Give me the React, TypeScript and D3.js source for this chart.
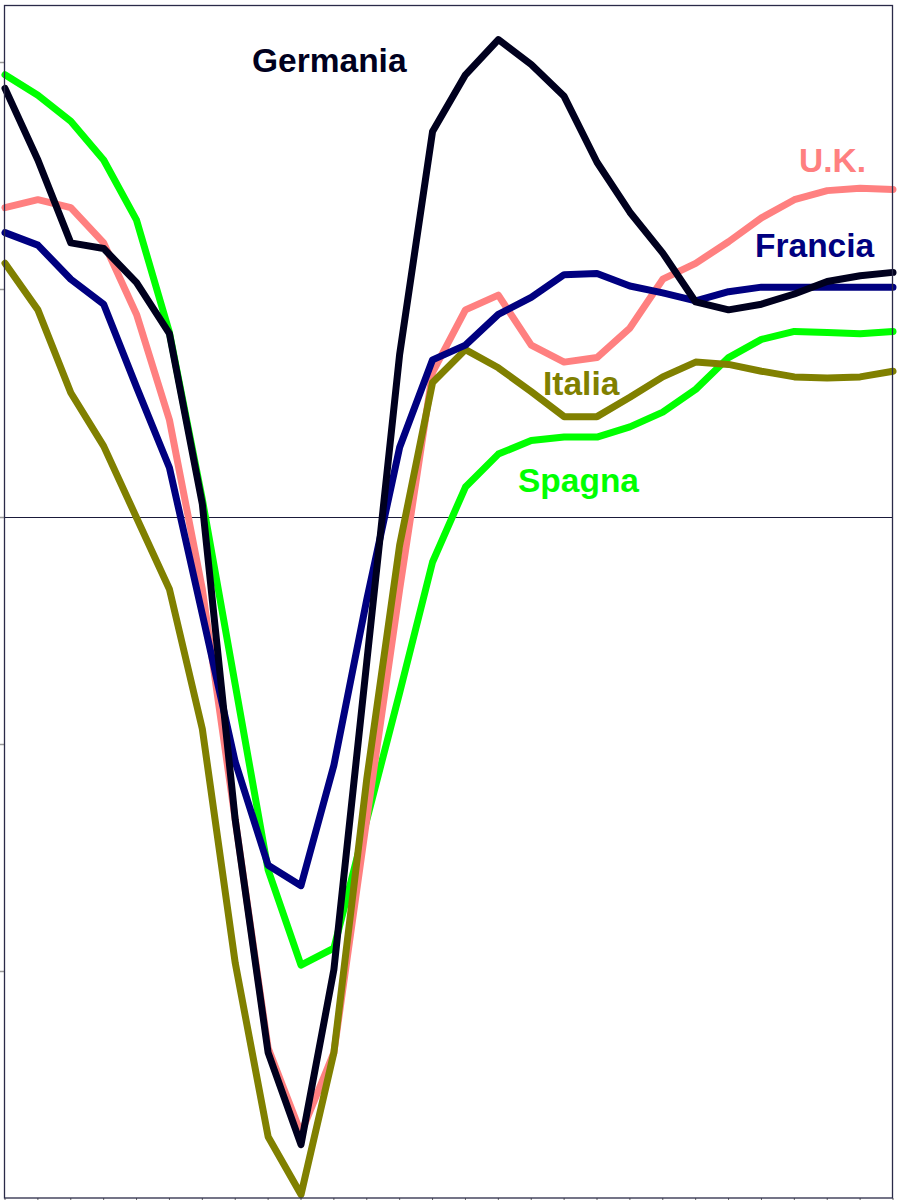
import * as d3 from 'd3';
import * as React from 'react';
import { Component } from 'react';

// year-on-year growth, one value per quarter
const germania = [3.77, 3.14, 2.41, 2.36, 2.06, 1.61, 0.11, -2.67, -4.72, -5.53, -3.99, -1.28, 1.43, 3.39,
  3.89, 4.20, 3.98, 3.70, 3.12, 2.68, 2.32, 1.89, 1.82, 1.87, 1.96, 2.07, 2.12, 2.15];
const spagna = [3.89, 3.71, 3.48, 3.14, 2.61, 1.62, 0.15, -1.48, -3.11, -3.95, -3.80, -2.67, -1.55, -0.40,
  0.26, 0.55, 0.67, 0.70, 0.70, 0.79, 0.92, 1.12, 1.40, 1.56, 1.63, 1.62, 1.61, 1.63];
const uk = [2.72, 2.79, 2.72, 2.41, 1.78, 0.85, -0.64, -2.67, -4.68, -5.43, -4.72, -2.66, -0.64, 1.27,
  1.82, 1.95, 1.51, 1.36, 1.40, 1.66, 2.09, 2.23, 2.42, 2.63, 2.79, 2.87, 2.89, 2.88];
const francia = [2.50, 2.39, 2.09, 1.87, 1.14, 0.43, -0.86, -2.16, -3.07, -3.25, -2.19, -0.73, 0.61, 1.38,
  1.51, 1.78, 1.93, 2.13, 2.14, 2.03, 1.97, 1.90, 1.98, 2.02, 2.02, 2.02, 2.02, 2.02];
const italia = [2.23, 1.82, 1.09, 0.62, -0.01, -0.64, -1.87, -3.93, -5.46, -5.97, -4.72, -2.31, -0.25, 1.18,
  1.47, 1.31, 1.10, 0.88, 0.88, 1.05, 1.23, 1.36, 1.34, 1.28, 1.23, 1.22, 1.23, 1.28];

const yTicks = [4, 2, 0, -2, -4];

const series = [
  { name: 'Spagna', values: spagna, color: '#00ff00', lx: 518, ly: 492 },
  { name: 'U.K.', values: uk, color: '#ff8080', lx: 799, ly: 172 },
  { name: 'Italia', values: italia, color: '#808000', lx: 543, ly: 395 },
  { name: 'Francia', values: francia, color: '#000080', lx: 755, ly: 257 },
  { name: 'Germania', values: germania, color: '#00001e', lx: 252, ly: 72 },
];

class App extends Component {

  private chartElement: any;

  componentDidMount() {
    document.body.style.margin = '0';
    this.renderChart();
  }

  renderChart() {
    const width = 898,
      height = 1200;

    const plot = { left: 4.5, right: 892.5, top: 5.5, bottom: 1198 };

    d3.select(this.chartElement).selectAll('*').remove();

    let svg = d3.select(this.chartElement)
      .append('svg')
      .attr('width', width)
      .attr('height', height)
      .style('display', 'block');

    const x = d3.scaleLinear().domain([0, germania.length - 1]).range([5, 893]);
    const y = d3.scaleLinear().domain([-6, 4.5]).range([plot.bottom, plot.top]);

    // left ticks
    svg.selectAll('.ytick')
      .data(yTicks)
      .enter()
      .append('line')
      .attr('x1', 0)
      .attr('x2', plot.left)
      .attr('y1', d => Math.round(y(d)) + 0.5)
      .attr('y2', d => Math.round(y(d)) + 0.5)
      .attr('stroke', '#999')
      .attr('stroke-width', 1.5);

    // bottom ticks
    svg.selectAll('.xtick')
      .data(d3.range(germania.length))
      .enter()
      .append('line')
      .attr('x1', d => x(d))
      .attr('x2', d => x(d))
      .attr('y1', plot.bottom)
      .attr('y2', height)
      .attr('stroke', '#666')
      .attr('stroke-width', 1);

    // zero line
    svg.append('line')
      .attr('x1', plot.left)
      .attr('x2', plot.right)
      .attr('y1', Math.round(y(0)) + 0.5)
      .attr('y2', Math.round(y(0)) + 0.5)
      .attr('stroke', '#1a1a3a')
      .attr('stroke-width', 1);

    const line = d3.line<number>()
      .x((d, i) => x(i))
      .y(d => y(d));

    svg.selectAll('.serie')
      .data(series)
      .enter()
      .append('path')
      .attr('class', 'serie')
      .attr('d', d => line(d.values))
      .attr('fill', 'none')
      .attr('stroke', d => d.color)
      .attr('stroke-width', 7)
      .attr('stroke-linejoin', 'round')
      .attr('stroke-linecap', 'round');

    svg.selectAll('.label')
      .data(series)
      .enter()
      .append('text')
      .attr('x', d => d.lx)
      .attr('y', d => d.ly)
      .attr('fill', d => d.color)
      .style('font-family', '"Liberation Sans", Arial, sans-serif')
      .style('font-weight', 'bold')
      .style('font-size', '33.5px')
      .text(d => d.name);

    // frame
    svg.append('rect')
      .attr('x', plot.left)
      .attr('y', plot.top)
      .attr('width', plot.right - plot.left)
      .attr('height', plot.bottom - plot.top)
      .attr('fill', 'none')
      .attr('stroke', '#2a2a48')
      .attr('stroke-width', 1.3);
  }

  render() {
    return (
      <div className="Chart" ref={el => { this.chartElement = el; }}></div>
    );
  }
}

export default App;
